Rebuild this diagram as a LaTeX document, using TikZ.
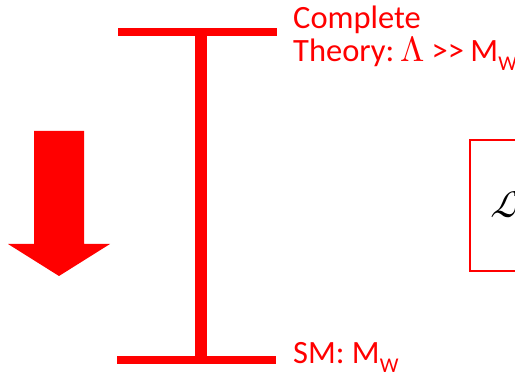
\documentclass[tikz,border=0pt]{standalone}
\usepackage{fontspec}
\usepackage{unicode-math}
\setmainfont{Carlito}
\setmathfont{Latin Modern Math}
\usetikzlibrary{positioning}

\newcommand{\subw}{\raisebox{-0.25em}{\fontsize{21}{21}\selectfont W}}

\begin{document}
\begin{tikzpicture}[
x=1pt, y=-1pt,
label/.style={text=red, inner sep=0pt, anchor=base west, font=\fontsize{32.5}{33}\selectfont},
bar/.style={draw=red, line width=8pt},
stem/.style={draw=red, line width=12pt}
]
\useasboundingbox (0,0) rectangle (515,374);

% energy scale bar
\coordinate (tl) at (118,32);
\coordinate (tr) at (277,32);
\coordinate (bl) at (117,360);
\coordinate (br) at (276,360);
\coordinate (top) at (201,32);
\coordinate (bot) at (201,360);
\draw[bar] (tl) -- (tr);
\draw[bar] (bl) -- (br);
\draw[stem] (top) -- (bot);

% labels
\node[label] (complete) at (293,29) {Complete};
\node[label] (theory) at (293,62) {Theory:\hspace{0.2em}{\fontsize{35}{35}\selectfont$\mupLambda$}\hspace{0.2em}>{}>\hspace{0.2em}M\subw};
\node[label] (sm) at (293,364) {SM: M\subw};

% block arrow
\fill[red] (34,131) -- (84,131) -- (84,244) -- (110,244) -- (59,276)
  -- (8,244) -- (34,244) -- cycle;

% lagrangian box
\node[draw=red, line width=2pt, minimum width=120pt, minimum height=131pt, anchor=north west] (lbox) at (469,139) {};
\node[inner sep=0pt, anchor=west, font=\fontsize{38}{38}\selectfont] (lag) at (490,205) {$\mathcal{L}$};
\end{tikzpicture}
\end{document}
